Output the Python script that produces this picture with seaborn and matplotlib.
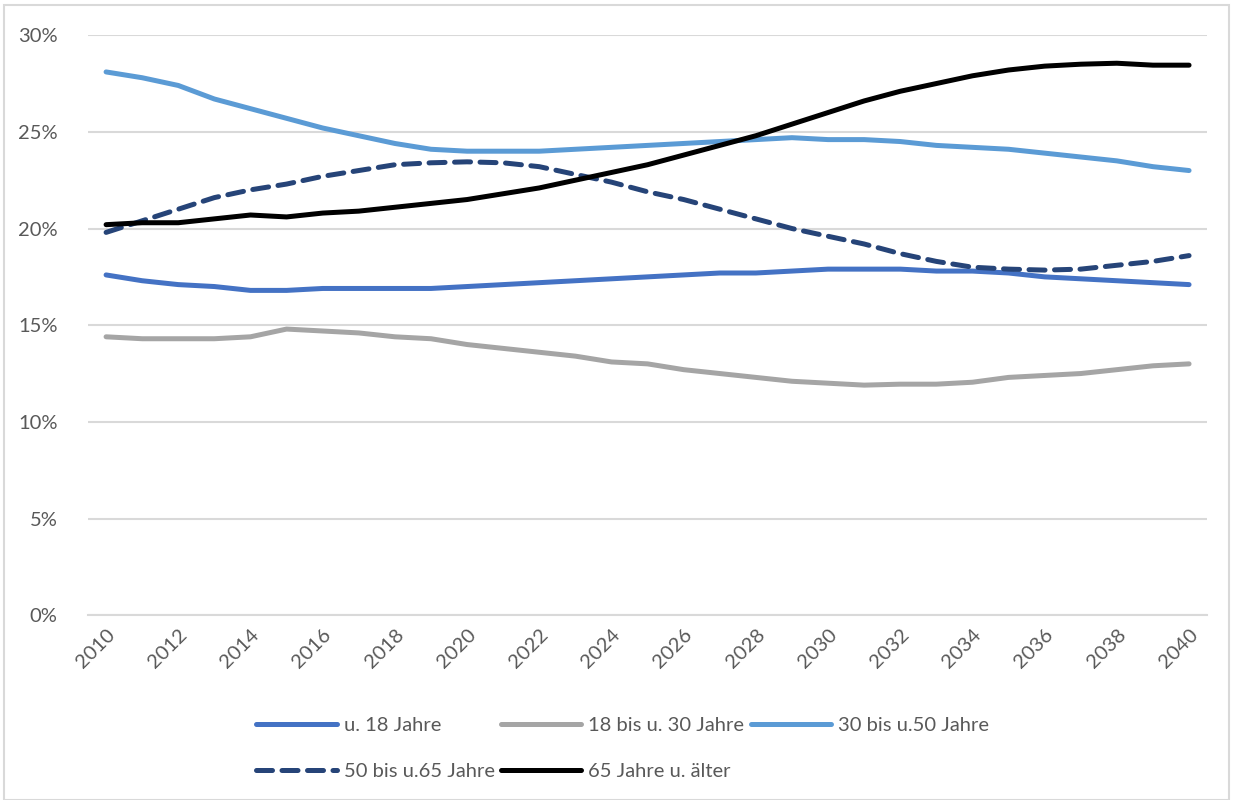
import matplotlib
matplotlib.use("Agg")
import matplotlib.pyplot as plt
from matplotlib.patches import Rectangle
from matplotlib.ticker import FuncFormatter, MultipleLocator
import numpy as np
import pandas as pd
import seaborn as sns

years = list(range(2010, 2041))

u18 = [17.6, 17.3, 17.1, 17.0, 16.8, 16.8, 16.9, 16.9, 16.9, 16.9, 17.0,
       17.1, 17.2, 17.3, 17.4, 17.5, 17.6, 17.7, 17.7, 17.8, 17.9,
       17.9, 17.9, 17.8, 17.8, 17.7, 17.5, 17.4, 17.3, 17.2, 17.1]
a18_30 = [14.4, 14.3, 14.3, 14.3, 14.4, 14.8, 14.7, 14.6, 14.4, 14.3, 14.0,
          13.8, 13.6, 13.4, 13.1, 13.0, 12.7, 12.5, 12.3, 12.1, 12.0,
          11.9, 11.95, 11.95, 12.05, 12.3, 12.4, 12.5, 12.7, 12.9, 13.0]
a30_50 = [28.1, 27.8, 27.4, 26.7, 26.2, 25.7, 25.2, 24.8, 24.4, 24.1, 24.0,
          24.0, 24.0, 24.1, 24.2, 24.3, 24.4, 24.5, 24.6, 24.7, 24.6,
          24.6, 24.5, 24.3, 24.2, 24.1, 23.9, 23.7, 23.5, 23.2, 23.0]
a50_65 = [19.8, 20.4, 21.0, 21.6, 22.0, 22.3, 22.7, 23.0, 23.3, 23.4, 23.45,
          23.4, 23.2, 22.8, 22.4, 21.9, 21.5, 21.0, 20.5, 20.0, 19.6,
          19.2, 18.7, 18.3, 18.0, 17.9, 17.85, 17.9, 18.1, 18.3, 18.6]
a65 = [20.2, 20.3, 20.3, 20.5, 20.7, 20.6, 20.8, 20.9, 21.1, 21.3, 21.5,
       21.8, 22.1, 22.5, 22.9, 23.3, 23.8, 24.3, 24.8, 25.4, 26.0,
       26.6, 27.1, 27.5, 27.9, 28.2, 28.4, 28.5, 28.55, 28.45, 28.45]

series_names = ["u. 18 Jahre", "18 bis u. 30 Jahre", "30 bis u.50 Jahre",
                "50 bis u.65 Jahre", "65 Jahre u. älter"]
series_values = [u18, a18_30, a30_50, a50_65, a65]
tick_years = list(range(2010, 2041, 2))

colors = ["#4472C4", "#A5A5A5", "#5B9BD5", "#264478", "#000000"]

df = pd.concat(
    [pd.DataFrame({"Jahr": years, "Anteil": vals, "Gruppe": name})
     for name, vals in zip(series_names, series_values)],
    ignore_index=True,
)

sns.set_theme(style="white")
plt.rcParams["font.family"] = ["Lato", "DejaVu Sans"]

fig = plt.figure(figsize=(12.33, 8.0), dpi=100)
ax = fig.add_axes([0.0714, 0.231, 0.9076, 0.725])

dash_map = {n: "" for n in series_names}
dash_map["50 bis u.65 Jahre"] = (3.2, 1.9)

sns.lineplot(
    data=df, x="Jahr", y="Anteil", hue="Gruppe", style="Gruppe",
    hue_order=series_names, style_order=series_names,
    palette=colors, dashes=dash_map, linewidth=3.6, ax=ax, legend=False,
)
for ln in ax.lines:
    ln.set_solid_capstyle("round")
    ln.set_dash_capstyle("round")

ax.set_xlim(2009.5, 2040.5)
ax.set_ylim(0, 30)
ax.yaxis.set_major_locator(MultipleLocator(5))
ax.yaxis.set_major_formatter(FuncFormatter(lambda v, _: f"{v:.0f}%"))
ax.set_xticks(tick_years)
ax.set_xticklabels([str(y) for y in tick_years], rotation=45, ha="right",
                   rotation_mode="anchor")
ax.tick_params(axis="both", colors="#595959", labelsize=14.5, length=0)
ax.tick_params(axis="x", pad=8)
ax.tick_params(axis="y", pad=22)
ax.set_xlabel("")
ax.set_ylabel("")
ax.grid(axis="y", color="#D9D9D9", linewidth=1.5)
ax.grid(axis="x", visible=False)
for side in ["top", "right", "left"]:
    ax.spines[side].set_visible(False)
ax.spines["bottom"].set_color("#D9D9D9")
ax.spines["bottom"].set_linewidth(1.5)

# legend fills column by column; order the entries so rows read left to right
handles = list(ax.lines[:len(series_names)])
order = [0, 3, 1, 4, 2]
leg = fig.legend(
    [handles[i] for i in order], [series_names[i] for i in order],
    loc="center", bbox_to_anchor=(0.505, 0.064),
    ncol=3, frameon=False, fontsize=14.5, handlelength=4.0,
    columnspacing=0.3, handletextpad=0.35, labelspacing=1.45,
)
for t in leg.get_texts():
    t.set_color("#595959")

fig.patches.append(Rectangle((0.003, 0.0), 0.994, 0.994, transform=fig.transFigure,
                             fill=False, edgecolor="#D9D9D9", linewidth=1.5))

fig.savefig("out.png", dpi=100)
